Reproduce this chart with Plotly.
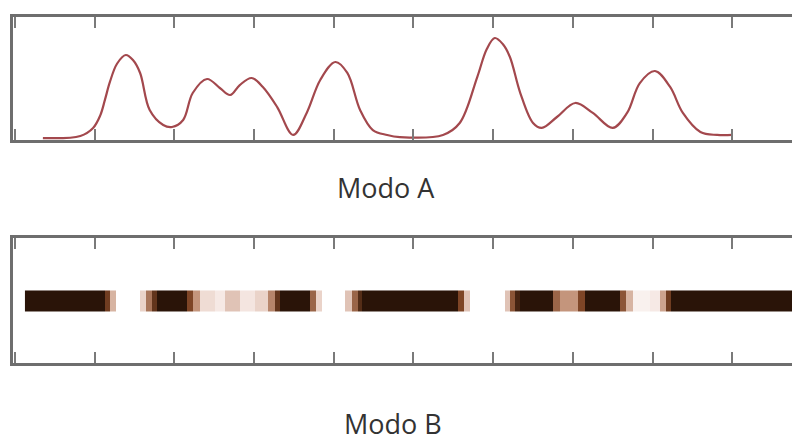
import plotly.graph_objects as go
from plotly.subplots import make_subplots

# ---- Data (x in tick units, ticks every 1 unit) ----
curve_x = [0.35, 0.82, 0.98, 1.07, 1.13, 1.19, 1.28, 1.39, 1.48, 1.57, 1.69, 1.86, 1.97,
           2.11, 2.23, 2.41, 2.57, 2.70, 2.82, 2.97, 3.11, 3.29, 3.49, 3.66, 3.83, 4.02,
           4.17, 4.33, 4.49, 4.67, 4.83, 5.37, 5.58, 5.80, 5.92, 6.02, 6.12, 6.21, 6.34,
           6.50, 6.61, 6.80, 7.03, 7.25, 7.50, 7.68, 7.84, 8.03, 8.22, 8.38, 8.60, 8.81,
           9.00]
curve_y = [0.016, 0.033, 0.098, 0.200, 0.330, 0.470, 0.620, 0.691, 0.650, 0.545, 0.244,
           0.122, 0.106, 0.163, 0.382, 0.496, 0.423, 0.366, 0.447, 0.504, 0.431, 0.268,
           0.041, 0.220, 0.488, 0.634, 0.545, 0.244, 0.081, 0.041, 0.024, 0.041, 0.138,
           0.512, 0.740, 0.829, 0.780, 0.675, 0.382, 0.138, 0.098, 0.187, 0.301, 0.220,
           0.098, 0.220, 0.463, 0.561, 0.431, 0.220, 0.065, 0.041, 0.041]

band_edges = [0.125, 1.129, 1.192, 1.267, 1.568, 1.644, 1.719, 1.782, 2.158, 2.233, 2.321,
              2.509, 2.635, 2.823, 3.011, 3.174, 3.262, 3.325, 3.701, 3.777, 3.852, 4.141,
              4.228, 4.304, 4.354, 5.558, 5.634, 5.709, 6.148, 6.211, 6.274, 6.336, 6.750,
              6.838, 7.064, 7.152, 7.591, 7.666, 7.754, 7.967, 8.093, 8.168, 8.231, 10.0]
band_values = [1.0, 0.75, 0.35, 0.0, 0.25, 0.55, 0.8, 1.0, 0.7, 0.45, 0.22, 0.15, 0.3,
               0.18, 0.25, 0.5, 0.8, 1.0, 0.6, 0.25, 0.0, 0.3, 0.6, 0.85, 1.0, 0.7, 0.3,
               0.0, 0.3, 0.65, 0.9, 1.0, 0.6, 0.45, 0.7, 1.0, 0.65, 0.35, 0.1, 0.15, 0.4,
               0.75, 1.0]
band_y_edges = [0.41, 0.58]

tick_vals = list(range(0, 11))
labels = ["Modo A", "Modo B"]

# ---- Figure ----
fig = make_subplots(rows=2, cols=1)

fig.add_trace(go.Scatter(x=curve_x, y=curve_y, mode="lines",
                         line=dict(color="#a3484d", width=2.2, shape="spline", smoothing=1.0),
                         hoverinfo="skip", showlegend=False), row=1, col=1)

fig.add_trace(go.Heatmap(x=band_edges, y=band_y_edges, z=[band_values],
                         zmin=0, zmax=1, showscale=False, hoverinfo="skip",
                         colorscale=[[0.0, "#ffffff"], [0.2, "#f3e2dc"], [0.45, "#c4957c"],
                                     [0.7, "#7e4526"], [1.0, "#2a1408"]]),
              row=2, col=1)

axis_line = dict(showline=True, linecolor="#6e6e6e", linewidth=2.5)
for r in (1, 2):
    fig.update_xaxes(range=[-0.025, 9.95], tickvals=tick_vals, ticks="inside", ticklen=11,
                     tickwidth=2, tickcolor="#7a7a7a", showticklabels=False, mirror="ticks",
                     showgrid=False, zeroline=False, **axis_line, row=r, col=1)
    fig.update_yaxes(range=[0, 1], showticklabels=False, ticks="", showgrid=False,
                     zeroline=False, mirror=False, **axis_line, row=r, col=1)

fig.update_layout(
    width=800, height=445,
    margin=dict(l=5, r=0, t=9, b=90),
    paper_bgcolor="white", plot_bgcolor="white",
    xaxis=dict(domain=[0, 1]), yaxis=dict(domain=[0.6445, 1.0]),
    xaxis2=dict(domain=[0, 1]), yaxis2=dict(domain=[0.0, 0.3613]),
    showlegend=False,
)

fig.add_annotation(text=labels[0], x=0.469, y=(363 - 188) / 346, xref="paper", yref="paper",
                   showarrow=False, xanchor="center", yanchor="middle",
                   font=dict(family="Open Sans", size=27, color="#333333"))
fig.add_annotation(text=labels[1], x=0.478, y=(363 - 423) / 346, xref="paper", yref="paper",
                   showarrow=False, xanchor="center", yanchor="middle",
                   font=dict(family="Open Sans", size=27, color="#333333"))

fig.write_html("out.html")
